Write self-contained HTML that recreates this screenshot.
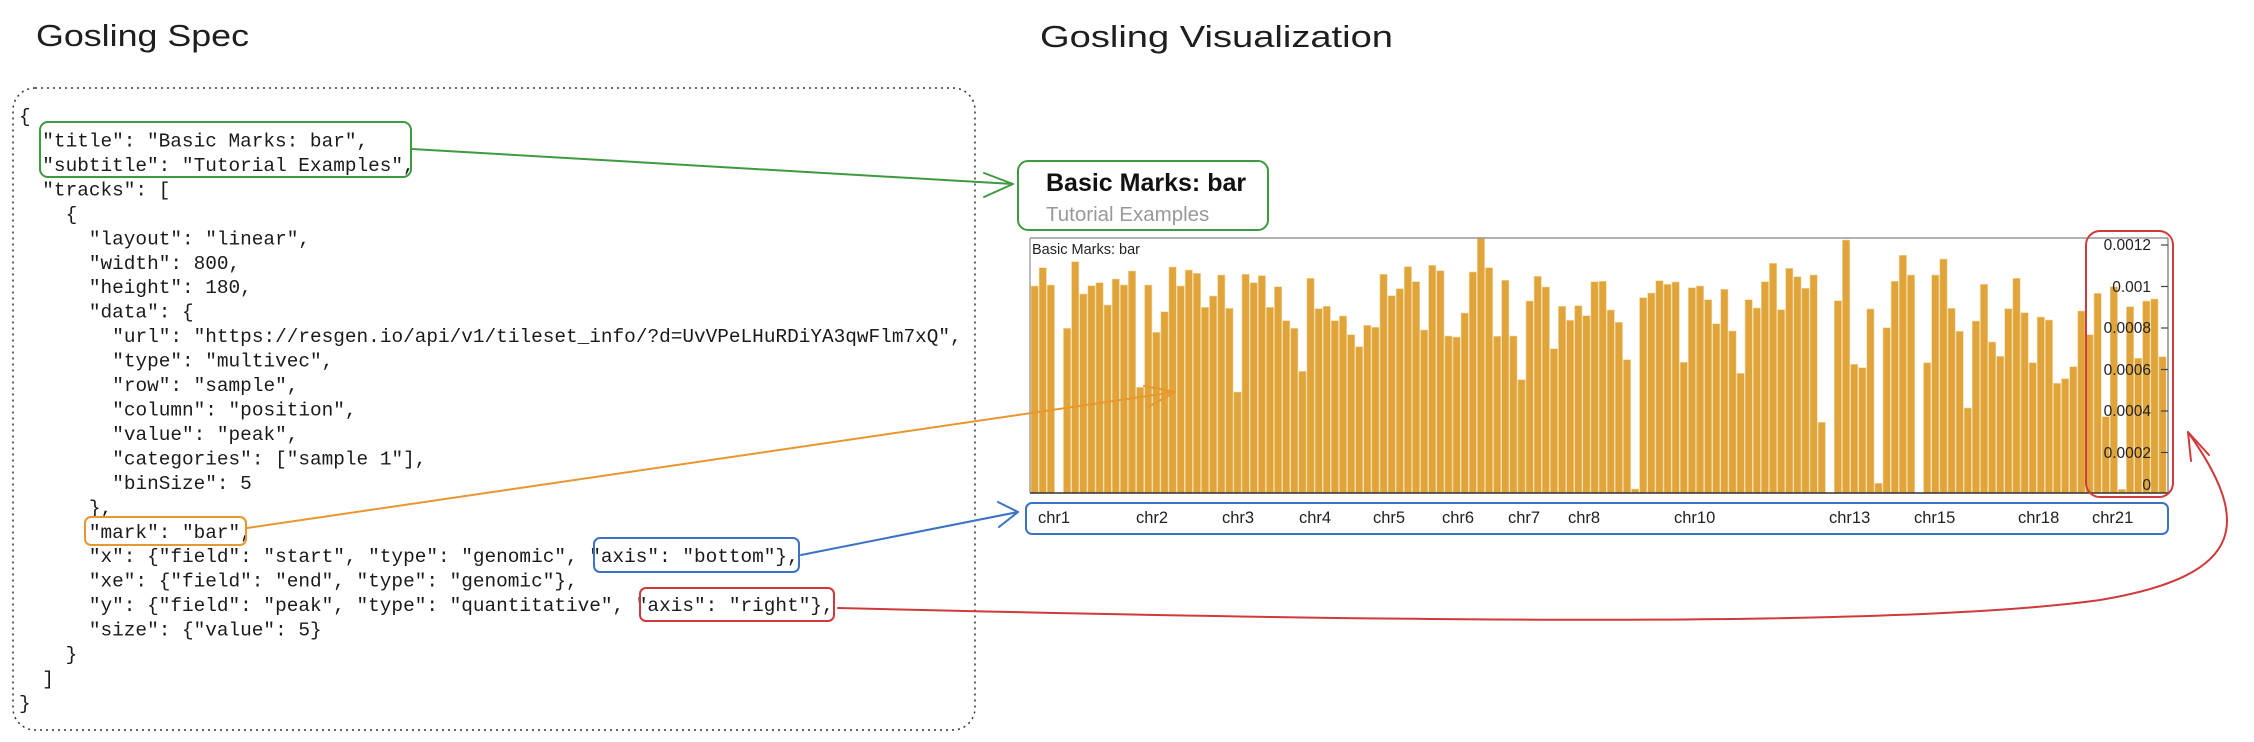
<!DOCTYPE html>
<html><head><meta charset="utf-8"><style>
html,body{margin:0;padding:0;background:#fff;}
svg{display:block;}
.code{font-family:"Liberation Mono",monospace;font-size:19.4px;fill:#1a1a1a;}
.hand{font-family:"Liberation Sans",sans-serif;font-size:31px;fill:#1e1e1e;}
.ax{font-family:"Liberation Sans",sans-serif;fill:#222;}
</style></head><body>
<svg id="s" width="2254" height="742" viewBox="0 0 2254 742" xmlns="http://www.w3.org/2000/svg">
<text class="hand" x="36" y="46" textLength="213" lengthAdjust="spacingAndGlyphs">Gosling Spec</text>
<text class="hand" x="1040" y="47" textLength="353" lengthAdjust="spacingAndGlyphs">Gosling Visualization</text>
<rect x="13" y="88" width="962" height="642" rx="22" fill="none" stroke="#333" stroke-width="1.5" stroke-dasharray="2,4"/>
<g class="code">
<text x="19" y="122">{</text>
<text x="42.3" y="146.5">"title": "Basic Marks: bar",</text>
<text x="42.3" y="171">"subtitle": "Tutorial Examples",</text>
<text x="42.3" y="195.4">"tracks": [</text>
<text x="65.6" y="219.8">{</text>
<text x="88.9" y="244.3">"layout": "linear",</text>
<text x="88.9" y="268.8">"width": 800,</text>
<text x="88.9" y="293.2">"height": 180,</text>
<text x="88.9" y="317.7">"data": {</text>
<text x="112.2" y="342.1">"url": "https://resgen.io/api/v1/tileset_info/?d=UvVPeLHuRDiYA3qwFlm7xQ",</text>
<text x="112.2" y="366.6">"type": "multivec",</text>
<text x="112.2" y="391">"row": "sample",</text>
<text x="112.2" y="415.5">"column": "position",</text>
<text x="112.2" y="440">"value": "peak",</text>
<text x="112.2" y="464.4">"categories": ["sample 1"],</text>
<text x="112.2" y="488.9">"binSize": 5</text>
<text x="88.9" y="513.3">},</text>
<text x="88.9" y="537.8">"mark": "bar",</text>
<text x="88.9" y="562.2">"x": {"field": "start", "type": "genomic", "axis": "bottom"},</text>
<text x="88.9" y="586.7">"xe": {"field": "end", "type": "genomic"},</text>
<text x="88.9" y="611.1">"y": {"field": "peak", "type": "quantitative", "axis": "right"},</text>
<text x="88.9" y="635.6">"size": {"value": 5}</text>
<text x="65.6" y="660">}</text>
<text x="42.3" y="684.5">]</text>
<text x="19" y="709">}</text>
</g>
<rect x="40" y="122" width="371" height="55" rx="8" fill="none" stroke="#3f9a3f" stroke-width="2"/>
<rect x="85" y="517" width="161" height="28" rx="6" fill="none" stroke="#e8962e" stroke-width="2"/>
<rect x="594" y="538" width="205" height="34" rx="6" fill="none" stroke="#3a73c4" stroke-width="2"/>
<rect x="640" y="588" width="194" height="33" rx="6" fill="none" stroke="#d03a3a" stroke-width="2"/>

<g id="bars"></g>
<line x1="1030" y1="238" x2="2168" y2="238" stroke="#999" stroke-width="1.5"/>
<line x1="1030" y1="238" x2="1030" y2="493" stroke="#777" stroke-width="1"/>
<line x1="2168" y1="238" x2="2168" y2="493" stroke="#555" stroke-width="1"/>
<line x1="1030" y1="493" x2="2168" y2="493" stroke="#333" stroke-width="1.5"/>
<text class="ax" x="1032" y="254" font-size="14.5">Basic Marks: bar</text>
<g class="ax" font-size="15.5" text-anchor="end">
<text x="2151" y="250">0.0012</text>
<text x="2151" y="292">0.001</text>
<text x="2151" y="333">0.0008</text>
<text x="2151" y="375">0.0006</text>
<text x="2151" y="416">0.0004</text>
<text x="2151" y="458">0.0002</text>
<text x="2151" y="490">0</text>
</g>
<g stroke="#444" stroke-width="1.2">
<line x1="2161" y1="245" x2="2168" y2="245"/><line x1="2161" y1="286.5" x2="2168" y2="286.5"/>
<line x1="2161" y1="328" x2="2168" y2="328"/><line x1="2161" y1="369.5" x2="2168" y2="369.5"/>
<line x1="2161" y1="411" x2="2168" y2="411"/><line x1="2161" y1="452.5" x2="2168" y2="452.5"/>
</g>
<g class="ax" font-size="16.5">
<text x="1038" y="523">chr1</text><text x="1136" y="523">chr2</text><text x="1222" y="523">chr3</text>
<text x="1299" y="523">chr4</text><text x="1373" y="523">chr5</text><text x="1442" y="523">chr6</text>
<text x="1508" y="523">chr7</text><text x="1568" y="523">chr8</text><text x="1674" y="523">chr10</text>
<text x="1829" y="523">chr13</text><text x="1914" y="523">chr15</text><text x="2018" y="523">chr18</text>
<text x="2092" y="523">chr21</text>
</g>
<rect x="1018" y="161" width="250" height="69" rx="10" fill="none" stroke="#3f9a3f" stroke-width="2"/>
<text x="1046" y="191" font-family="Liberation Sans,sans-serif" font-weight="bold" font-size="25" fill="#111">Basic Marks: bar</text>
<text x="1046" y="221" font-family="Liberation Sans,sans-serif" font-size="20.5" fill="#999">Tutorial Examples</text>
<rect x="2086" y="231" width="87" height="266" rx="14" fill="none" stroke="#d03a3a" stroke-width="2"/>
<rect x="1026" y="503" width="1142" height="31" rx="6" fill="none" stroke="#3a73c4" stroke-width="2"/>

<g fill="none" stroke-width="2" stroke-linecap="round" stroke-linejoin="round">
<path d="M412 149 L1013 184 M984 173 L1013 184 L984 197" stroke="#3f9a3f"/>
<path d="M247 528 L1175 392 M1144 386 L1175 392 L1148 407" stroke="#e8962e"/>
<path d="M801 555 L1018 512 M998 502 L1018 512 L999 527" stroke="#3a73c4"/>
<path d="M838 608 C1400 622 1900 628 2100 600 C2250 575 2250 520 2188 432 M2209 455 L2188 432 L2191 461" stroke="#d03a3a"/>
</g>
</svg>
<script>
(function(){
var z=[168,113,165,790,295,95,192,167,158,225,147,165,123,472,165,307,245,111,168,120,130,232,198,135,235,486,133,158,137,232,170,272,295,424,145,236,229,272,258,314,350,286,292,133,197,176,110,155,300,
106,122,318,321,249,126,22,113,319,151,318,449,213,139,171,356,229,271,227,257,155,154,240,277,389,777,203,189,152,163,156,397,173,168,209,281,178,303,430,209,234,155,100,239,115,140,175,135,577,
790,212,30,403,413,237,760,293,154,76,135,790,398,135,87,235,304,534,273,163,336,379,236,145,248,398,261,270,460,446,410,243,314,190,560,170,778,230,385,213,207,380];
var g=document.getElementById('bars'),ns='http://www.w3.org/2000/svg',n=z.length,w=(2167-1031)/n;
for(var i=0;i<n;i++){if(z[i]>=785)continue;var yt=230+z[i]/3;var r=document.createElementNS(ns,'rect');
r.setAttribute('x',(1031+i*w).toFixed(2));r.setAttribute('y',yt.toFixed(1));r.setAttribute('width',(w-0.8).toFixed(2));
r.setAttribute('height',(493-yt).toFixed(1));r.setAttribute('fill','#e0a43b');r.setAttribute('stroke','#f3d9a0');r.setAttribute('stroke-width','0.6');g.appendChild(r);}
})();
</script>
</body></html>
